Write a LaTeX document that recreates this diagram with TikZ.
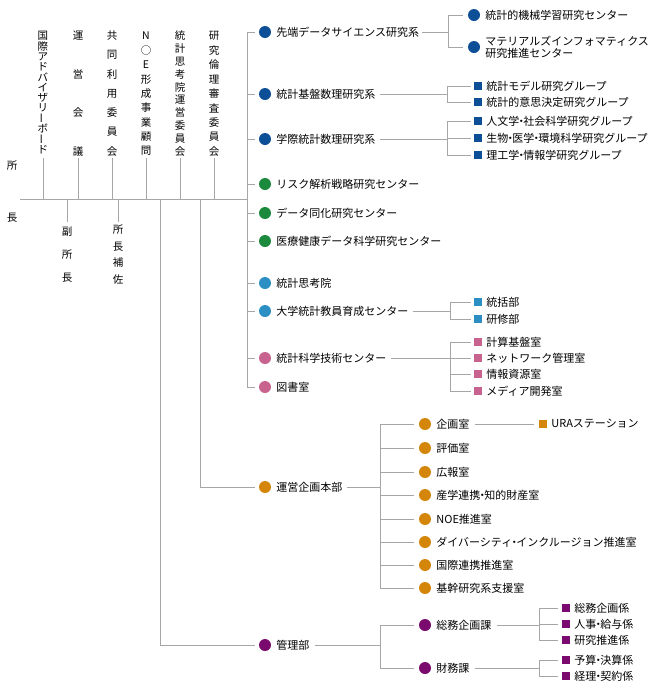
\documentclass[tikz,border=0pt]{standalone}
\usepackage{fontspec}
\setmainfont{Noto Sans CJK JP}
\begin{document}
\begin{tikzpicture}[x=1pt,y=-1pt,
  ln/.style={draw=black!35,line width=0.7pt},
  dot/.style={circle,inner sep=0pt,minimum size=12pt},
  sq/.style={rectangle,inner sep=0pt,minimum size=8pt},
  lab/.style={anchor=west,inner sep=0pt,font=\fontsize{11}{12}\selectfont,align=left},
  vt/.style={inner sep=0pt,font=\fontsize{10.5}{12}\selectfont}]
\definecolor{cb}{HTML}{0D4F96}
\definecolor{cg}{HTML}{1B8A3C}
\definecolor{cl}{HTML}{2B8FC4}
\definecolor{cp}{HTML}{C8628F}
\definecolor{co}{HTML}{D4860B}
\definecolor{cv}{HTML}{7A0A6E}
\useasboundingbox (0,0) rectangle (650,689);
\newcommand\nd{\kern-0.32em・\kern-0.32em}
\newcommand\orgC[5]{\node[dot,fill=#4] (#1c) at (#2,#3) {}; \node[lab] (#1) at ([xshift=5pt]#1c.east) {#5};}
\newcommand\orgS[5]{\node[sq,fill=#4] (#1c) at (#2,#3) {}; \node[lab] (#1) at ([xshift=4pt]#1c.east) {#5};}
\newcommand\vcol[5]{\foreach \c [count=\i from 0] in {#4} {\node[vt] at (#2,#3+\i*#5) {\c};}}
% director
\node[vt] (sho) at (12,166) {所};
\node[vt] (cho) at (12,218) {長};
\coordinate (m0) at (20,199);
\coordinate (m1) at (247,199);
\draw[ln] (m0) -- (m1);
% committees
\newcommand\vbar{\rotatebox{90}{ー}}
\vcol{k1}{43}{36}{国,際,ア,ド,バ,イ,ザ,リ,\vbar,ボ,\vbar,ド}{10.3}
\vcol{k2}{78}{36}{運,営,会,議}{38.5}
\vcol{k3}{112}{36}{共,同,利,用,委,員,会}{19.2}
\vcol{k4}{146}{36}{N,○,E,形,成,事,業,顧,問}{14.4}
\vcol{k5}{180}{36}{統,計,思,考,院,運,営,委,員,会}{12.8}
\vcol{k6}{214}{36}{研,究,倫,理,審,査,委,員,会}{14.4}
\foreach \xx in {43,78,112,146,180,214} {\coordinate (t\xx) at (\xx,158); \draw[ln] (t\xx) -- (t\xx |- m0);}
% below
\vcol{f1}{67}{232}{副,所,長}{23}
\vcol{f2}{118}{230}{所,長,補,佐}{16.5}
\coordinate (b1) at (67,222); \draw[ln] (b1 |- m0) -- (b1);
\coordinate (b2) at (118,222); \draw[ln] (b2 |- m0) -- (b2);
% level 1
\orgC{a1}{265}{32}{cb}{先端データサイエンス研究系}
\orgC{a2}{265}{94}{cb}{統計基盤数理研究系}
\orgC{a3}{265}{139}{cb}{学際統計数理研究系}
\orgC{a4}{265}{184}{cg}{リスク解析戦略研究センター}
\orgC{a5}{265}{213}{cg}{データ同化研究センター}
\orgC{a6}{265}{241}{cg}{医療健康データ科学研究センター}
\orgC{a7}{265}{283}{cl}{統計思考院}
\orgC{a8}{265}{311}{cl}{大学統計教員育成センター}
\orgC{a9}{265}{358}{cp}{統計科学技術センター}
\orgC{a10}{265}{387}{cp}{図書室}
\coordinate (sp) at (247,199);
\draw[ln] (sp |- a1c) -- (sp |- a10c);
\foreach \n in {1,...,10} {\draw[ln,shorten >=4pt] (sp |- a\n c) -- (a\n c.west);}
% a1 subs
\orgC{s11}{474}{15}{cb}{統計的機械学習研究センター}
\orgC{s12}{474}{47}{cb}{マテリアルズインフォマティクス\\研究推進センター}
\coordinate (j1) at (448,32);
\draw[ln,shorten <=3pt] (a1.east) -- (j1);
\draw[ln] (j1 |- s11c) -- (j1 |- s12c);
\foreach \n in {11,12} \draw[ln,shorten >=5pt] (j1 |- s\n c) -- (s\n c.west);
% a2 subs
\orgS{s21}{478}{86}{cb}{統計モデル研究グループ}
\orgS{s22}{478}{102}{cb}{統計的意思決定研究グループ}
\coordinate (j2) at (447,94);
\draw[ln,shorten <=4pt] (a2.east) -- (j2);
\draw[ln] (j2 |- s21c) -- (j2 |- s22c);
\foreach \n in {21,22} \draw[ln,shorten >=3pt] (j2 |- s\n c) -- (s\n c.west);
% a3 subs
\orgS{s31}{478}{121}{cb}{人文学\nd 社会科学研究グループ}
\orgS{s32}{478}{138}{cb}{生物\nd 医学\nd 環境科学研究グループ}
\orgS{s33}{478}{155}{cb}{理工学\nd 情報学研究グループ}
\coordinate (j3) at (447,139);
\draw[ln,shorten <=4pt] (a3.east) -- (j3);
\draw[ln] (j3 |- s31c) -- (j3 |- s33c);
\foreach \n in {31,32,33} \draw[ln,shorten >=3pt] (j3 |- s\n c) -- (s\n c.west);
% a8 subs
\orgS{s81}{478}{302}{cl}{統括部}
\orgS{s82}{478}{319}{cl}{研修部}
\coordinate (j8) at (450,311);
\draw[ln,shorten <=4pt] (a8.east) -- (j8);
\draw[ln] (j8 |- s81c) -- (j8 |- s82c);
\foreach \n in {81,82} \draw[ln,shorten >=3pt] (j8 |- s\n c) -- (s\n c.west);
% a9 subs
\orgS{s91}{478}{342}{cp}{計算基盤室}
\orgS{s92}{478}{358}{cp}{ネットワーク管理室}
\orgS{s93}{478}{374}{cp}{情報資源室}
\orgS{s94}{478}{391}{cp}{メディア開発室}
\coordinate (j9) at (450,358);
\draw[ln,shorten <=4pt] (a9.east) -- (j9);
\draw[ln] (j9 |- s91c) -- (j9 |- s94c);
\foreach \n in {91,92,93,94} \draw[ln,shorten >=3pt] (j9 |- s\n c) -- (s\n c.west);
% 運営企画本部
\orgC{u}{265}{487}{co}{運営企画本部}
\coordinate (v2) at (200,199);
\draw[ln] (v2) -- (v2 |- uc);
\draw[ln,shorten >=4pt] (v2 |- uc) -- (uc.west);
\orgC{u1}{425}{424}{co}{企画室}
\orgC{u2}{425}{448}{co}{評価室}
\orgC{u3}{425}{472}{co}{広報室}
\orgC{u4}{425}{495}{co}{産学連携\nd 知的財産室}
\orgC{u5}{425}{519}{co}{NOE推進室}
\orgC{u6}{425}{542}{co}{ダイバーシティ\nd インクルージョン推進室}
\orgC{u7}{425}{565}{co}{国際連携推進室}
\orgC{u8}{425}{588}{co}{基幹研究系支援室}
\coordinate (ju) at (380,487);
\draw[ln,shorten <=4pt] (u.east) -- (ju);
\draw[ln] (ju |- u1c) -- (ju |- u8c);
\foreach \n in {1,...,8} \draw[ln,shorten >=5pt] (ju |- u\n c) -- (u\n c.west);
\orgS{ura}{543}{424}{co}{URAステーション}
\draw[ln,shorten <=5pt,shorten >=5pt] (u1.east) -- (urac.west);
% 管理部
\orgC{k}{265}{645}{cv}{管理部}
\coordinate (v1) at (160,199);
\draw[ln] (v1) -- (v1 |- kc);
\draw[ln,shorten >=4pt] (v1 |- kc) -- (kc.west);
\orgC{k1}{425}{625}{cv}{総務企画課}
\orgC{k2}{425}{668}{cv}{財務課}
\coordinate (jk) at (380,645);
\draw[ln,shorten <=5pt] (k.east) -- (jk);
\draw[ln] (jk |- k1c) -- (jk |- k2c);
\foreach \n in {1,2} \draw[ln,shorten >=5pt] (jk |- k\n c) -- (k\n c.west);
\orgS{k11}{566}{608}{cv}{総務企画係}
\orgS{k12}{566}{624}{cv}{人事\nd 給与係}
\orgS{k13}{566}{640}{cv}{研究推進係}
\coordinate (jk1) at (539,625);
\draw[ln,shorten <=5pt] (k1.east) -- (jk1);
\draw[ln] (jk1 |- k11c) -- (jk1 |- k13c);
\foreach \n in {11,12,13} \draw[ln,shorten >=4pt] (jk1 |- k\n c) -- (k\n c.west);
\orgS{k21}{566}{660}{cv}{予算\nd 決算係}
\orgS{k22}{566}{676}{cv}{経理\nd 契約係}
\coordinate (jk2) at (539,668);
\draw[ln,shorten <=5pt] (k2.east) -- (jk2);
\draw[ln] (jk2 |- k21c) -- (jk2 |- k22c);
\foreach \n in {21,22} \draw[ln,shorten >=4pt] (jk2 |- k\n c) -- (k\n c.west);
\end{tikzpicture}
\end{document}
